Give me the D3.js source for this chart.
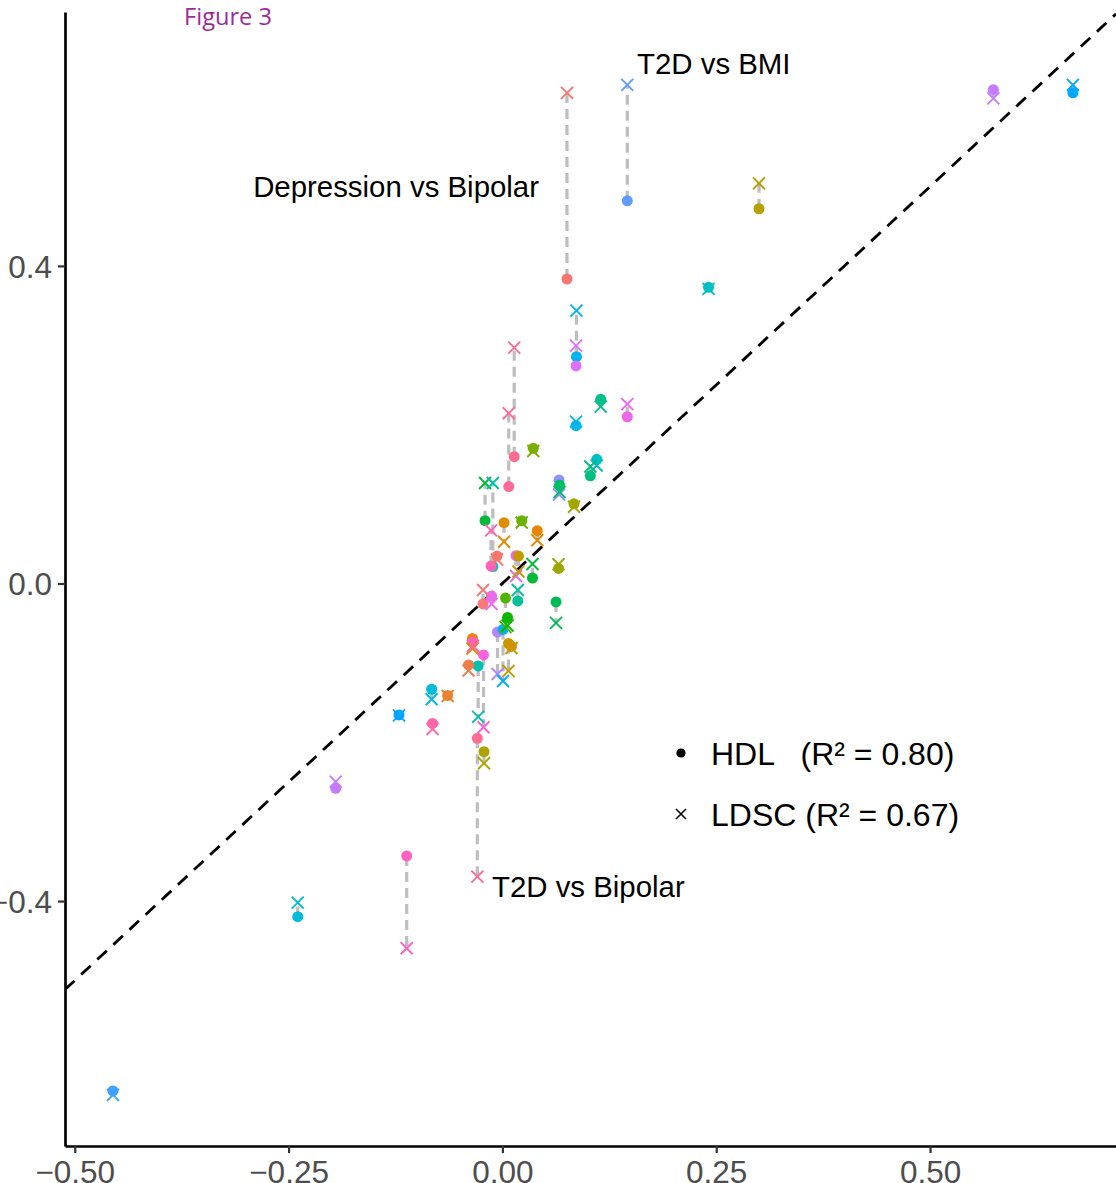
<!DOCTYPE html>
<html>
<head>
<meta charset="utf-8">
<script src="https://cdn.jsdelivr.net/npm/d3@7"></script>
<style>
  html, body { margin: 0; padding: 0; background: #ffffff; }
  svg { display: block; }
</style>
</head>
<body>
<svg id="chart" width="1116" height="1183"></svg>
<script>
// Genetic correlation estimates per trait pair: reference estimate on x,
// HDL and LDSC estimates on y (one dot and one cross per pair).
const pairX = [
  0.667, 0.574, 0.146, 0.0755, 0.300, 0.241, 0.0866, 0.0861, 0.0138, 0.0074,
  0.115, 0.146, 0.0861, 0.0361, 0.1103, 0.1028, 0.0662, 0.0668, 0.0837, -0.0203,
  -0.0112, -0.0133, 0.0019, 0.0226, 0.0408, -0.0063, 0.0159, 0.0188, 0.0352, 0.0656,
  0.018, -0.0227, -0.0127, 0.0627, 0.0036, 0.006, -0.0057, 0.0007, -0.035, -0.0344,
  -0.0221, 0.0071, 0.0106, -0.0396, -0.0283, -0.0827, -0.064, -0.1209, -0.0817, -0.0293,
  -0.0215, -0.1949, -0.1119, -0.2393, -0.4553
];
const hdlY = [
  0.618, 0.622, 0.482, 0.3835, 0.472, 0.373, 0.2856, 0.274, 0.1597, 0.122,
  0.232, 0.210, 0.1987, 0.1703, 0.1564, 0.1356, 0.1304, 0.124, 0.1004, 0.0791,
  0.0214, 0.022, 0.0766, 0.0791, 0.0665, 0.0346, 0.035, 0.0346, 0.0069, 0.0189,
  -0.022, -0.0258, -0.0157, -0.0233, -0.0183, -0.0428, -0.0611, -0.0579, -0.0693, -0.0737,
  -0.090, -0.0756, -0.0793, -0.1026, -0.1039, -0.1332, -0.1411, -0.1656, -0.1763, -0.195,
  -0.2118, -0.2579, -0.3432, -0.4196, -0.6392
];
const ldscY = [
  0.628, 0.611, 0.628, 0.618, 0.504, 0.371, 0.3436, 0.2995, 0.297, 0.2144,
  0.2227, 0.226, 0.2038, 0.1669, 0.1486, 0.1474, 0.1121, 0.1152, 0.0967, 0.1266,
  0.1266, 0.0668, 0.0526, 0.0768, 0.0544, 0.0302, 0.0094, 0.0151, 0.0246, 0.0242,
  -0.0082, -0.0082, -0.0258, -0.0497, -0.0548, -0.0529, -0.114, -0.1228, -0.0819, -0.0787,
  -0.1811, -0.1102, -0.0812, -0.1096, -0.1681, -0.1458, -0.1417, -0.1662, -0.1833, -0.3693,
  -0.2264, -0.2496, -0.4594, -0.402, -0.6442
];

// Axis ticks
const xTicks = [-0.50, -0.25, 0.00, 0.25, 0.50];
const yTicks = [-0.4, 0.0, 0.4];

// Legend entries
const legendLabels = ["HDL   (R\u00B2 = 0.80)", "LDSC (R\u00B2 = 0.67)"];

// Labelled trait pairs
const noteText = ["T2D vs BMI", "Depression vs Bipolar", "T2D vs Bipolar"];

// One hue per trait pair
const pairColour = [
  "#00A9FF", "#C77CFF", "#619CFF", "#F8766D", "#B79F00", "#00BFC4", "#00B4F0", "#DC71FA", "#FF6C91", "#FF6A98",
  "#00C08B", "#F066EA", "#00B6EB", "#7CAE00", "#00BFC4", "#00BF7D", "#9590FF", "#00BE67", "#A3A500", "#00BA38",
  "#00C1A9", "#FF62BC", "#DE8C00", "#6BB100", "#E58700", "#F8766D", "#E76BF3", "#C49A00", "#00BA38", "#9DA700",
  "#00C19A", "#FA7876", "#E96BF0", "#00BC56", "#53B400", "#0CB702", "#B385FF", "#00B0F6", "#E58700", "#FF64B0",
  "#F863DF", "#C49A00", "#CF9400", "#EF7F49", "#00C0B2", "#00BCD8", "#EA8331", "#00A5FF", "#FF67A4", "#FF6C91",
  "#ADA200", "#C77CFF", "#FF61C3", "#00BCD8", "#3DA1FF"
];

const pairs = pairX.map((x, i) => ({ x, hdl: hdlY[i], ldsc: ldscY[i], colour: pairColour[i] }));

const svg = d3.select("#chart");
const W = 1116, H = 1183;
const panel = { left: 65, right: 1116, top: 12, bottom: 1146 };

const x = d3.scaleLinear().domain([-0.5114, 0.7174]).range([panel.left, panel.right]);
const y = d3.scaleLinear().domain([-0.7085, 0.7198]).range([panel.bottom, panel.top]);

svg.append("rect").attr("width", W).attr("height", H).attr("fill", "#ffffff");

svg.append("defs").append("clipPath").attr("id", "panel-clip")
  .append("rect")
  .attr("x", panel.left).attr("y", panel.top)
  .attr("width", panel.right - panel.left).attr("height", panel.bottom - panel.top);

const plot = svg.append("g").attr("clip-path", "url(#panel-clip)");

// Identity line y = x
const lo = x.domain()[0], hi = x.domain()[1];
plot.append("line")
  .attr("x1", x(lo)).attr("y1", y(lo))
  .attr("x2", x(hi)).attr("y2", y(hi))
  .attr("stroke", "#000000")
  .attr("stroke-width", 2.8)
  .attr("stroke-dasharray", "13,9");

// Connectors between the two estimates of each pair
plot.append("g").selectAll("line")
  .data(pairs)
  .join("line")
  .attr("x1", d => x(d.x)).attr("x2", d => x(d.x))
  .attr("y1", d => y(d.hdl)).attr("y2", d => y(d.ldsc))
  .attr("stroke", "#BEBEBE")
  .attr("stroke-width", 3.2)
  .attr("stroke-dasharray", "10,6");

// HDL estimates (dots)
plot.append("g").selectAll("circle")
  .data(pairs)
  .join("circle")
  .attr("cx", d => x(d.x)).attr("cy", d => y(d.hdl))
  .attr("r", 5.5)
  .attr("fill", d => d.colour);

// LDSC estimates (crosses)
const crossPath = s => `M${-s},${-s}L${s},${s}M${-s},${s}L${s},${-s}`;
plot.append("g").selectAll("path")
  .data(pairs)
  .join("path")
  .attr("transform", d => `translate(${x(d.x)},${y(d.ldsc)})`)
  .attr("d", crossPath(6))
  .attr("fill", "none")
  .attr("stroke", d => d.colour)
  .attr("stroke-width", 1.9);

// Axes
const tickFont = "'Liberation Sans', Arial, sans-serif";

const xAxis = svg.append("g")
  .attr("transform", `translate(0,${panel.bottom})`)
  .call(d3.axisBottom(x).tickValues(xTicks).tickFormat(d3.format(".2f")).tickSize(7).tickSizeOuter(0).tickPadding(7));
const yAxis = svg.append("g")
  .attr("transform", `translate(${panel.left},0)`)
  .call(d3.axisLeft(y).tickValues(yTicks).tickFormat(d3.format(".1f")).tickSize(7).tickSizeOuter(0).tickPadding(6));

[xAxis, yAxis].forEach(g => {
  g.select(".domain").attr("stroke", "#000000").attr("stroke-width", 2.7);
  g.selectAll(".tick line").attr("stroke", "#333333").attr("stroke-width", 2.2);
  g.selectAll(".tick text")
    .attr("fill", "#4D4D4D")
    .style("font-family", tickFont)
    .style("font-size", "31.5px");
});
yAxis.selectAll(".tick text").attr("dy", "0.36em");
xAxis.selectAll(".tick text").attr("dy", "0.74em");

// Labels for the highlighted pairs
const noteFont = "'Liberation Sans', Arial, sans-serif";
const notes = [
  { t: noteText[0], x: 0.1574, y: 0.6417, anchor: "start" },
  { t: noteText[1], x: 0.0428, y: 0.4868, anchor: "end" },
  { t: noteText[2], x: -0.0122, y: -0.3948, anchor: "start" }
];
svg.append("g").selectAll("text")
  .data(notes)
  .join("text")
  .attr("x", d => x(d.x)).attr("y", d => y(d.y))
  .attr("text-anchor", d => d.anchor)
  .attr("fill", "#000000")
  .style("font-family", noteFont)
  .style("font-size", "29.4px")
  .text(d => d.t);

// Legend
const legend = svg.append("g").attr("transform", "translate(681,753)");
legend.append("circle").attr("cx", 0).attr("cy", 0).attr("r", 4.6).attr("fill", "#000000");
legend.append("path")
  .attr("transform", "translate(0,61)")
  .attr("d", crossPath(5))
  .attr("fill", "none").attr("stroke", "#000000").attr("stroke-width", 1.5);
legend.selectAll("text")
  .data(legendLabels)
  .join("text")
  .attr("x", 30)
  .attr("y", (d, i) => 12 + i * 61)
  .attr("fill", "#000000")
  .style("font-family", noteFont)
  .style("font-size", "32px")
  .style("white-space", "pre")
  .attr("xml:space", "preserve")
  .text(d => d);

// Figure caption
svg.append("text")
  .attr("x", 184).attr("y", 25)
  .attr("fill", "#9C2A9C")
  .style("font-family", "'Open Sans', sans-serif")
  .style("font-size", "23.6px")
  .text("Figure 3");
</script>
</body>
</html>
